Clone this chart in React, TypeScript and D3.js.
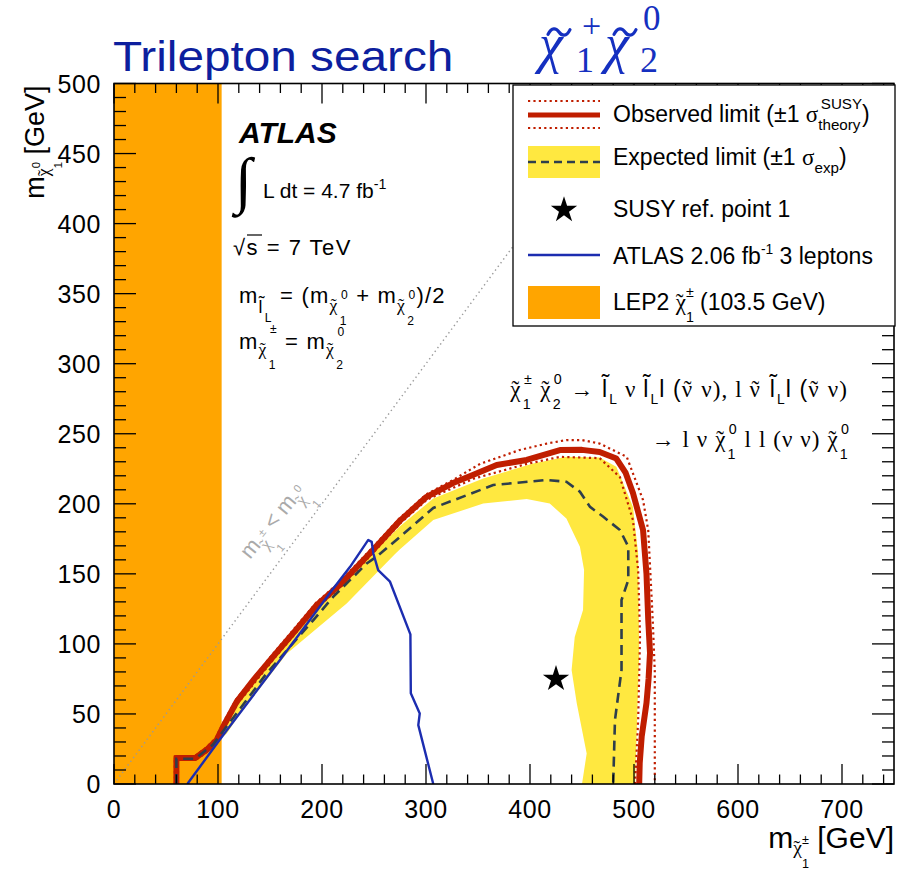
import React from "react";
import * as d3 from "d3";

// ---- data (GeV) ----
const xTicksMajor = [0, 100, 200, 300, 400, 500, 600, 700];
const yTicksMajor = [0, 50, 100, 150, 200, 250, 300, 350, 400, 450, 500];

const lepLimit = 103.5;

const observed: [number, number][] = [
  [60, 0], [60, 18.5], [78, 18.5], [90, 25], [98.7, 31.4], [104.8, 40.7], [118, 58.8], [135, 75],
  [153, 90.9], [175, 110], [195, 127.8], [217, 142], [249, 167], [275, 188], [300.6, 205],
  [326, 214.8], [345, 220.6], [368, 227.7], [396.8, 231.3], [428.8, 238.4], [450, 238.5],
  [467, 237], [483, 232.3], [492, 222], [499, 207.7], [508.7, 181.3], [512, 150], [513.7, 117],
  [515.4, 93.5], [514, 75], [512, 57.8], [507.4, 33.8], [505.5, 15], [505, 0],
];

const observedUp: [number, number][] = [
  [58.5, 0], [58.5, 19.8], [77.5, 19.8], [89.5, 26.5], [98, 33], [104, 42.3], [117.3, 60.3],
  [152.3, 92.4], [194.3, 129.3], [216.3, 143.6], [248.3, 168.6], [274.5, 189.6], [300.3, 206.8],
  [326, 217], [352, 228.5], [390, 238.4], [416, 243], [435, 245.5], [450, 245.5], [467, 243],
  [493, 233.5], [508.7, 202.7], [513.7, 181], [518, 117], [520, 80], [520, 45.7], [520, 0],
];

const observedDown: [number, number][] = [
  [61.5, 0], [61.5, 17.2], [78.5, 17.2], [91, 23.6], [99.5, 29.8], [105.6, 39.2], [118.8, 57.3],
  [153.8, 89.4], [195.8, 126.3], [217.8, 140.5], [249.8, 165.5], [275.7, 186.4], [301, 203],
  [346, 218], [397, 228.5], [428.8, 233.5], [467, 232.6], [486.5, 219], [499, 188.4], [504, 152.7],
  [505.8, 105], [504, 45.7], [501, 0],
];

const expected: [number, number][] = [
  [60, 0], [60, 18], [78, 18], [95, 28], [108.3, 41], [146.8, 79], [191.7, 117], [210.9, 133.7],
  [243, 157.4], [252.6, 162.3], [275, 176.4], [307, 197], [364.6, 213.4], [416, 217],
  [435, 215.7], [448, 208.6], [457.7, 197.8], [470.5, 190.7], [486.5, 181.3], [494.5, 169.4],
  [494.5, 145.6], [488, 131.3], [488, 81.4], [481.7, 45.7], [480, 0],
];

// expected +-1 sigma band: outer edge, then inner edge (both from low to high mass)
const bandOuter: [number, number][] = [
  [60, 0], [60, 18], [78, 18], [95, 29], [105, 39], [118, 57], [153, 89], [195, 126], [217, 140.5],
  [249, 165], [275, 184], [307, 203.8], [355, 218], [403, 228.8], [435, 233.5], [467, 233],
  [483, 226.4], [499, 197.8], [504, 164.5], [505, 93], [503, 45.7], [501, 0],
];
const bandInner: [number, number][] = [
  [62, 0], [62, 17], [78, 17], [90, 24], [108.4, 36], [121, 50], [166, 93], [223.7, 128.8],
  [270, 164], [275, 167.5], [307, 188.4], [355, 200.2], [396.8, 203.4], [419, 200.2],
  [435, 189.5], [448, 169.4], [452, 152.7], [451, 124.2], [443, 105], [440, 81.4], [445, 57.5],
  [454.5, 21.8], [450, 0],
];

const atlas2fb: [number, number][] = [
  [70.5, 0], [105, 35], [159.6, 88.5], [210.9, 139.5], [227, 155], [244.5, 174.2], [247.8, 172.8],
  [249.4, 164.5], [254, 152.7], [265.4, 144.4], [285, 106.8], [285.4, 64.7], [294, 50.4],
  [292.6, 42], [307, 0],
];

const refPoint: [number, number] = [425, 75];
const kinematicEdge: [number, number][] = [[0, 0], [500, 500]];

// ---- style ----
const SANS = "'Liberation Sans', Arial, Helvetica, sans-serif";
const SERIF = "'Liberation Serif', 'DejaVu Serif', serif";
const C_ORANGE = "#ffa500";
const C_YELLOW = "#ffe840";
const C_RED = "#c01e00";
const C_DASH = "#2e3e4c";
const C_BLUE = "#1c2db0";
const C_TITLE = "#0d1f9e";
const C_CHI = "#1530c0";
const TILDE = "\u02DC";

const W = 908;
const H = 871;
const PL = 114, PR = 894, PT = 83.5, PB = 784;

const x = d3.scaleLinear().domain([0, 750]).range([PL, PR]);
const y = d3.scaleLinear().domain([0, 500]).range([PB, PT]);

// rich-text piece: t text, o baseline offset (em, +down), s size factor, tl tilde accent
type P = { t: string; o?: number; s?: number; dx?: number; tl?: boolean };

const CW: Record<string, number> = {
  "0": 0.556, "1": 0.556, "2": 0.556, "3": 0.556, "4": 0.556, "5": 0.556, "6": 0.556, "7": 0.556,
  "8": 0.556, "9": 0.556, "±": 0.584, "+": 0.584, "-": 0.333, L: 0.556, l: 0.222, " ": 0.278,
  "χ": 0.55, "ν": 0.5, "σ": 0.55, i: 0.222, t: 0.278, r: 0.333, y: 0.5, S: 0.667, U: 0.722, Y: 0.667,
};
const textW = (t: string) =>
  Array.from(t).reduce((a, c) => a + (CW[c] ?? (/[A-Z]/.test(c) ? 0.667 : 0.5)), 0);

const isGreek = (t: string) => /[\u0370-\u03FF]/.test(t);

function rich(parts: P[], fs: number) {
  let cur = 0;
  let carry = 0;
  const out: React.ReactNode[] = [];
  parts.forEach((p, i) => {
    const size = (p.s ?? 1) * fs;
    const fam = isGreek(p.t) ? SERIF : undefined;
    const off = (p.o ?? 0) * fs;
    const dy = off - cur;
    cur = off;
    const dx = (p.dx ?? 0) + carry;
    carry = 0;
    out.push(
      <tspan key={i} dy={dy} dx={dx || undefined} fontSize={size} fontFamily={fam}>
        {p.t}
      </tspan>
    );
    if (p.tl) {
      const wb = textW(p.t) * size;
      const wt = 0.333 * size;
      // small tilde sits near cap height: lift it over ascenders, keep it for x-height letters
      const drop = isGreek(p.t) ? -0.02 * size : -0.24 * size;
      out.push(
        <tspan key={i + "t"} dx={-(wb + wt) / 2} dy={drop} fontSize={size} fontFamily={fam}>
          {TILDE}
        </tspan>
      );
      cur += drop;
      carry = (wb - wt) / 2;
    }
  });
  return out;
}

// stacked subscript / superscript after a base piece
function stacked(base: P, sub: string, sup: string, so: number, po: number, ss: number, fs: number): P[] {
  const wsub = textW(sub) * ss * fs;
  const wsup = textW(sup) * ss * fs;
  if (wsub <= wsup) {
    return [base, { t: sub, o: so, s: ss }, { t: sup, o: po, s: ss, dx: -wsub }];
  }
  return [base, { t: sup, o: po, s: ss }, { t: sub, o: so, s: ss, dx: -wsup }];
}

const N = (t: string, o = 0): P => ({ t, o });
const chi = (o: number, s = 1): P => ({ t: "χ", o, s, tl: true });

// drawn tilde accent for the large headline symbols
const tildePath = (cx: number, cy: number, w: number, a: number) =>
  `M${cx - w / 2},${cy + a * 0.6} C${cx - w / 3},${cy - a * 1.3} ${cx - w / 8},${cy - a} ${cx},${cy}` +
  ` S${cx + w / 3},${cy + a * 1.3} ${cx + w / 2},${cy - a * 0.6}`;

export default function App() {
  const line = d3.line<[number, number]>().x((d) => x(d[0])).y((d) => y(d[1]));
  const bandPath = line([...bandOuter, ...bandInner.slice().reverse()]) + "Z";
  const star = d3.symbol().type(d3.symbolStar).size(215)();

  const xMinor = d3.range(0, 751, 20);
  const yMinor = d3.range(0, 501, 10);

  const fsA = 22;
  const fsL = 23;
  const fsD = 23;

  // chi~ with stacked indices, inline in a text line
  const chiInline = (sub: string, sup: string, fs: number): P[] =>
    stacked(chi(0), sub, sup, 0.5, -0.55, 0.62, fs);

  return (
    <svg width={W} height={H} style={{ display: "block", position: "absolute", left: 0, top: 0 }} fontFamily={SANS}>
      <rect width={W} height={H} fill="#fff" />
      <defs>
        <clipPath id="plotArea">
          <rect x={PL} y={PT} width={PR - PL} height={PB - PT} />
        </clipPath>
      </defs>

      {/* headline */}
      <text x={113} y={71} fontSize={43} fill={C_TITLE} transform="translate(113,0) scale(1.11,1) translate(-113,0)">
        Trilepton search
      </text>
      <g fill={C_CHI} fontFamily={SERIF}>
        <text x={539} y={62} fontSize={54} fontStyle="italic">χ</text>
        <text x={576} y={72} fontSize={36}>1</text>
        <text x={582} y={37} fontSize={34}>+</text>
        <text x={605} y={62} fontSize={54} fontStyle="italic">χ</text>
        <text x={640} y={72} fontSize={36}>2</text>
        <text x={643} y={30} fontSize={35}>0</text>
      </g>
      <g fill="none" stroke={C_CHI} strokeWidth={3.2} strokeLinecap="round">
        <path d={tildePath(559, 32, 22, 4)} />
        <path d={tildePath(625, 32, 22, 4)} />
      </g>

      <g clipPath="url(#plotArea)">
        {/* LEP2 chargino exclusion */}
        <rect x={x(0)} y={PT} width={x(lepLimit) - x(0)} height={PB - PT} fill={C_ORANGE} />
        {/* expected +-1 sigma band */}
        <path d={bandPath} fill={C_YELLOW} />
        {/* kinematic boundary */}
        <path d={line(kinematicEdge)!} fill="none" stroke="#9a9a9a" strokeWidth={1.4} strokeDasharray="1.4 3.2" />
        {/* observed +-1 sigma theory */}
        <path d={line(observedUp)!} fill="none" stroke={C_RED} strokeWidth={2.2} strokeDasharray="2.2 3.2" />
        <path d={line(observedDown)!} fill="none" stroke={C_RED} strokeWidth={2.2} strokeDasharray="2.2 3.2" />
        {/* observed limit */}
        <path d={line(observed)!} fill="none" stroke={C_RED} strokeWidth={6} strokeLinejoin="round" />
        {/* expected limit */}
        <path d={line(expected)!} fill="none" stroke={C_DASH} strokeWidth={2.6} strokeDasharray="10 6" />
        {/* previous 2.06 fb-1 result */}
        <path d={line(atlas2fb)!} fill="none" stroke={C_BLUE} strokeWidth={2.4} strokeLinejoin="round" />
        {/* reference point */}
        <path d={star!} transform={`translate(${x(refPoint[0])},${y(refPoint[1])})`} fill="#000" />
      </g>

      {/* kinematic boundary label */}
      <text transform="translate(250,560) rotate(-51)" fontSize={22} fill="#aaaaaa">
        {rich(
          [
            N("m"),
            ...stacked(chi(0.35, 0.75), "1", "±", 0.9, -0.2, 0.5, 22),
            N(" < m", 0),
            ...stacked(chi(0.35, 0.75), "1", "0", 0.9, -0.2, 0.5, 22),
          ],
          22
        )}
      </text>

      {/* frame and ticks */}
      <g stroke="#000" strokeWidth={1.3}>
        {xMinor.map((v) => {
          const L = v % 100 === 0 ? 20 : 9.5;
          return (
            <g key={"x" + v}>
              <line x1={x(v)} x2={x(v)} y1={PB} y2={PB - L} />
              <line x1={x(v)} x2={x(v)} y1={PT} y2={PT + L} />
            </g>
          );
        })}
        {yMinor.map((v) => {
          const L = v % 50 === 0 ? 22 : 12;
          return (
            <g key={"y" + v}>
              <line x1={PL} x2={PL + L} y1={y(v)} y2={y(v)} />
              <line x1={PR} x2={PR - L} y1={y(v)} y2={y(v)} />
            </g>
          );
        })}
      </g>
      <rect x={PL} y={PT} width={PR - PL} height={PB - PT} fill="none" stroke="#000" strokeWidth={1.6} />

      {/* tick labels */}
      <g fontSize={25} fill="#000" letterSpacing={0.6}>
        {xTicksMajor.map((v) => (
          <text key={v} x={x(v)} y={818} textAnchor="middle">{v}</text>
        ))}
        {yTicksMajor.map((v) => (
          <text key={v} x={101} y={y(v) + 9} textAnchor="end">{v}</text>
        ))}
      </g>

      {/* axis titles */}
      <text x={PR} y={848} fontSize={30} textAnchor="end">
        {rich([N("m"), ...stacked(chi(0.2, 0.65), "1", "±", 0.67, -0.15, 0.42, 30), N(" [GeV]")], 30)}
      </text>
      <text transform={`translate(44,${PT + 2}) rotate(-90)`} fontSize={27} textAnchor="end">
        {rich([N("m"), ...stacked(chi(0.2, 0.65), "1", "0", 0.67, -0.15, 0.42, 27), N(" [GeV]")], 27)}
      </text>

      {/* ATLAS labels */}
      <text x={239} y={143} fontSize={30} fontWeight="bold" fontStyle="italic">ATLAS</text>
      <text x={235} y={201} fontSize={62} fontFamily={SERIF}>∫</text>
      <text x={263} y={198} fontSize={21}>
        {rich([N("L dt = 4.7 fb"), { t: "-1", o: -0.45, s: 0.68 }], 21)}
      </text>
      <text x={233} y={255} fontSize={fsA} letterSpacing={1.5}>
        {rich([N("√s = 7 TeV")], fsA)}
      </text>
      <line x1={247} x2={262} y1={235} y2={235} stroke="#000" strokeWidth={1.2} />
      <text x={239} y={303} fontSize={fsA} letterSpacing={1.2}>
        {rich(
          [
            N("m"),
            { t: "l", o: 0.45, s: 0.8, tl: true },
            { t: "L", o: 0.85, s: 0.55 },
            N(" = (m"),
            ...stacked(chi(0.35, 0.8), "1", "0", 1.0, -0.2, 0.55, fsA),
            N(" + m"),
            ...stacked(chi(0.35, 0.8), "2", "0", 1.0, -0.2, 0.55, fsA),
            N(")/2"),
          ],
          fsA
        )}
      </text>
      <text x={239} y={349} fontSize={fsA} letterSpacing={1.2}>
        {rich(
          [
            N("m"),
            ...stacked(chi(0.25, 0.8), "1", "±", 0.9, -0.75, 0.55, fsA),
            N(" = m"),
            ...stacked(chi(0.25, 0.8), "2", "0", 0.9, -0.6, 0.55, fsA),
          ],
          fsA
        )}
      </text>

      {/* decay chain */}
      <text x={848} y={397} fontSize={fsD} textAnchor="end" letterSpacing={1.1}>
        {rich(
          [
            ...chiInline("1", "±", fsD),
            N(" "),
            ...chiInline("2", "0", fsD),
            N(" → "),
            { t: "l", tl: true },
            { t: "L", o: 0.3, s: 0.6 },
            N(" ν "),
            { t: "l", tl: true },
            { t: "L", o: 0.3, s: 0.6 },
            N("l ("),
            { t: "ν", tl: true },
            N(" ν), l "),
            { t: "ν", tl: true },
            N(" "),
            { t: "l", tl: true },
            { t: "L", o: 0.3, s: 0.6 },
            N("l ("),
            { t: "ν", tl: true },
            N(" ν)"),
          ],
          fsD
        )}
      </text>
      <text x={850} y={447} fontSize={fsD} textAnchor="end" letterSpacing={1.1}>
        {rich(
          [
            N("→ l ν "),
            ...chiInline("1", "0", fsD),
            N(" l l (ν ν) "),
            ...chiInline("1", "0", fsD),
          ],
          fsD
        )}
      </text>

      {/* legend */}
      <g>
        <rect x={513} y={85} width={382} height={241} fill="#fff" stroke="#000" strokeWidth={1.3} />
        <line x1={528} x2={600} y1={101} y2={101} stroke={C_RED} strokeWidth={2.2} strokeDasharray="2.2 3.2" />
        <line x1={528} x2={600} y1={115} y2={115} stroke={C_RED} strokeWidth={5} />
        <line x1={528} x2={600} y1={128} y2={128} stroke={C_RED} strokeWidth={2.2} strokeDasharray="2.2 3.2" />
        <rect x={528} y={146} width={72} height={32} fill={C_YELLOW} />
        <line x1={528} x2={600} y1={162} y2={162} stroke={C_DASH} strokeWidth={2.6} strokeDasharray="8 5" />
        <path d={star!} transform="translate(564,210)" fill="#000" />
        <line x1={528} x2={600} y1={255} y2={255} stroke={C_BLUE} strokeWidth={2.4} />
        <rect x={528} y={286} width={72} height={33} fill={C_ORANGE} />

        <text x={613} y={121.5} fontSize={fsL}>
          {rich(
            [
              N("Observed limit (±1 "),
              ...stacked({ t: "σ" }, "theory", "SUSY", 0.35, -0.55, 0.66, fsL),
              N(")"),
            ],
            fsL
          )}
        </text>
        <text x={613} y={165} fontSize={fsL}>
          {rich([N("Expected limit (±1 "), N("σ"), { t: "exp", o: 0.35, s: 0.66 }, N(")")], fsL)}
        </text>
        <text x={613} y={217} fontSize={fsL}>SUSY ref. point 1</text>
        <text x={613} y={264} fontSize={fsL}>
          {rich([N("ATLAS 2.06 fb"), { t: "-1", o: -0.45, s: 0.6 }, N(" 3 leptons")], fsL)}
        </text>
        <text x={613} y={310} fontSize={fsL}>
          {rich([N("LEP2 "), ...chiInline("1", "±", fsL), N(" (103.5 GeV)")], fsL)}
        </text>
      </g>
    </svg>
  );
}
